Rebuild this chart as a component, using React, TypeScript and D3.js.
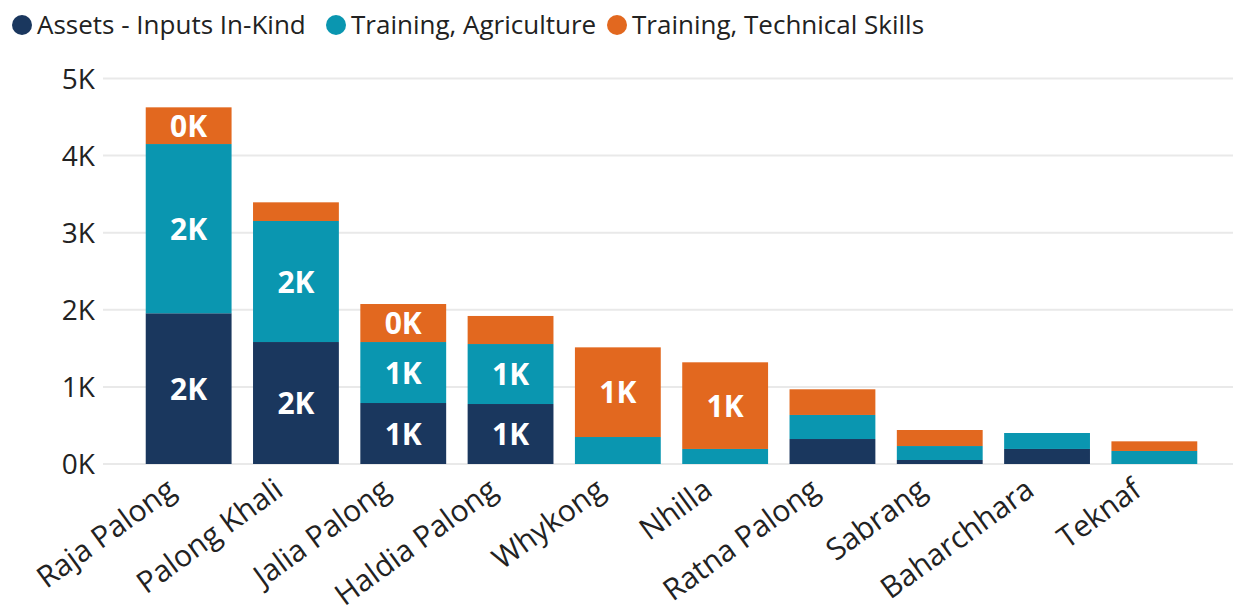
import React, { useEffect, useRef } from 'react';
import * as d3 from 'd3';

const categories = [
  'Raja Palong', 'Palong Khali', 'Jalia Palong', 'Haldia Palong', 'Whykong',
  'Nhilla', 'Ratna Palong', 'Sabrang', 'Baharchhara', 'Teknaf'
];
const seriesNames = ['Assets - Inputs In-Kind', 'Training, Agriculture', 'Training, Technical Skills'];
const assets = [1955, 1582, 791, 778, 0, 0, 324, 52, 195, 0];
const agriculture = [2195, 1570, 791, 778, 350, 195, 312, 181, 207, 169];
const technical = [476, 242, 493, 364, 1163, 1124, 333, 208, 0, 125];
const yTicks = [0, 1000, 2000, 3000, 4000, 5000];

const colors = ['#1a375e', '#0a96b0', '#e2681f'];
const FONT = '"Open Sans", "Noto Sans", sans-serif';

export default function App() {
  const svgRef = useRef<SVGSVGElement>(null);
  const width = 1235;
  const height = 615;

  useEffect(() => {
    if (!svgRef.current) return;
    const svg = d3.select(svgRef.current);
    svg.selectAll('*').remove();

    const rows = categories.map((c, i) => ({
      category: c,
      a: assets[i],
      b: agriculture[i],
      c: technical[i]
    }));
    const stacked = d3.stack<any>().keys(['a', 'b', 'c'])(rows);

    const x = d3.scaleBand()
      .domain(categories)
      .range([135, 1208])
      .paddingInner(0.2)
      .paddingOuter(0.1);

    const y = d3.scaleLinear()
      .domain([0, 5000])
      .range([464, 78.5]);

    // gridlines
    svg.append('g')
      .selectAll('line')
      .data(yTicks)
      .enter()
      .append('line')
      .attr('x1', 103)
      .attr('x2', 1233)
      .attr('y1', d => y(d))
      .attr('y2', d => y(d))
      .attr('stroke', '#e9e9e9')
      .attr('stroke-width', 2);

    // y tick labels
    svg.append('g')
      .selectAll('text')
      .data(yTicks)
      .enter()
      .append('text')
      .attr('x', 95)
      .attr('y', d => y(d) + 10)
      .attr('text-anchor', 'end')
      .attr('font-family', FONT)
      .attr('font-size', 28)
      .attr('fill', '#222')
      .text(d => `${d / 1000}K`);

    // bars
    stacked.forEach((layer, li) => {
      svg.append('g')
        .selectAll('rect')
        .data(layer)
        .enter()
        .append('rect')
        .attr('x', d => x(d.data.category) as number)
        .attr('y', d => y(d[1]))
        .attr('width', x.bandwidth())
        .attr('height', d => y(d[0]) - y(d[1]))
        .attr('fill', colors[li]);
    });

    // data labels (only where the segment is tall enough)
    stacked.forEach(layer => {
      svg.append('g')
        .selectAll('text')
        .data(layer.filter(d => y(d[0]) - y(d[1]) >= 30))
        .enter()
        .append('text')
        .attr('x', d => (x(d.data.category) as number) + x.bandwidth() / 2)
        .attr('y', d => (y(d[0]) + y(d[1])) / 2 + 11)
        .attr('text-anchor', 'middle')
        .attr('font-family', FONT)
        .attr('font-weight', 700)
        .attr('font-size', 30)
        .attr('fill', '#fff')
        .text(d => `${Math.round((d[1] - d[0]) / 1000)}K`);
    });

    // x labels
    svg.append('g')
      .selectAll('text')
      .data(categories)
      .enter()
      .append('text')
      .attr('transform', d => `translate(${(x(d) as number) + x.bandwidth() / 2 - 11},${494}) rotate(-36)`)
      .attr('text-anchor', 'end')
      .attr('font-family', FONT)
      .attr('font-size', 30)
      .attr('fill', '#222')
      .text(d => d);

    // legend
    const legendX = [22, 336, 617];
    const legend = svg.append('g');
    seriesNames.forEach((name, i) => {
      legend.append('circle')
        .attr('cx', legendX[i])
        .attr('cy', 25)
        .attr('r', 10)
        .attr('fill', colors[i]);
      legend.append('text')
        .attr('x', legendX[i] + 15)
        .attr('y', 34)
        .attr('font-family', FONT)
        .attr('font-size', 26)
        .attr('fill', '#222')
        .text(name);
    });
  }, []);

  return (
    <div style={{ position: 'fixed', left: 0, top: 0 }}>
      <svg ref={svgRef} width={width} height={height} style={{ background: '#fff', display: 'block' }} />
    </div>
  );
}
